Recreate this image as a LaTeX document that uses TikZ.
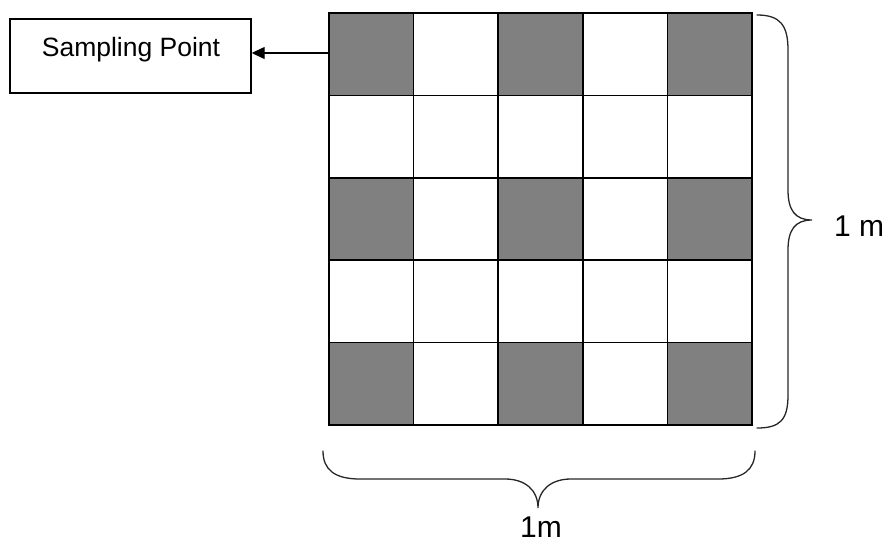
\documentclass[tikz,border=0pt]{standalone}
\usepackage{fontspec}
\setmainfont{Liberation Sans}
\usetikzlibrary{arrows.meta}
\definecolor{cellgray}{HTML}{808080}
\tikzset{
  cell/.style={draw=black, line width=1.5pt, minimum width=84.6pt, minimum height=82.4pt, inner sep=0pt, outer sep=0pt},
  shaded/.style={cell, fill=cellgray},
  plain/.style={cell, fill=white},
  labelbox/.style={draw=black, line width=1.4pt, minimum width=241pt, minimum height=74pt, inner sep=0pt},
  brace/.style={draw=black!85, line width=1.3pt, line cap=round},
  dimtext/.style={font=\fontsize{30}{34}\selectfont, inner sep=0pt, anchor=base}
}
\begin{document}
\begin{tikzpicture}[x=1pt, y=-1pt]
  \useasboundingbox (0,0) rectangle (889,544);
  % 5 x 5 sampling grid; corners and centre cells are shaded
  \foreach \r in {1,...,5} {
    \foreach \c in {1,...,5} {
      \pgfmathtruncatemacro{\odd}{mod(\r,2)*mod(\c,2)}
      \ifnum\odd=1
        \node[shaded] (c\r\c) at ({329+84.6*(\c-0.5)}, {13+82.4*(\r-0.5)}) {};
      \else
        \node[plain] (c\r\c) at ({329+84.6*(\c-0.5)}, {13+82.4*(\r-0.5)}) {};
      \fi
    }
  }
  % redraw the outer border
  \draw[line width=1.7pt] (c11.north west) rectangle (c55.south east);

  % label box and arrow
  \node[labelbox] (box) at (130.5,56) {};
  \node[font=\fontsize{26.5}{30}\selectfont, inner sep=0pt, anchor=base] (lbl) at (131,56) {Sampling Point};
  \coordinate (tail) at (c11.west |- 0,53);
  \draw[line width=1.3pt, -{Triangle[length=13pt, width=12pt]}] (tail) -- (box.east |- tail);

  % right brace (height)
  \coordinate (rtip) at (812,220);
  \draw[brace] (757,15) .. controls (780,15) and (788,25) .. (788,50)
    -- (788,190) .. controls (788,210) and (795,220) .. (rtip)
    .. controls (795,220) and (788,230) .. (788,250)
    -- (788,395) .. controls (788,420) and (780,428) .. (757,428);
  \node[dimtext, anchor=base west] (rlabel) at (834,236) {1 m};

  % bottom brace (width)
  \coordinate (btip) at (538,508);
  \draw[brace] (323,451) .. controls (323,470) and (335,479) .. (360,479)
    -- (505,479) .. controls (525,479) and (538,490) .. (btip)
    .. controls (538,490) and (551,479) .. (571,479)
    -- (718,479) .. controls (743,479) and (755,470) .. (755,451);
  \node[dimtext] (blabel) at (541,537) {1m};
\end{tikzpicture}
\end{document}
